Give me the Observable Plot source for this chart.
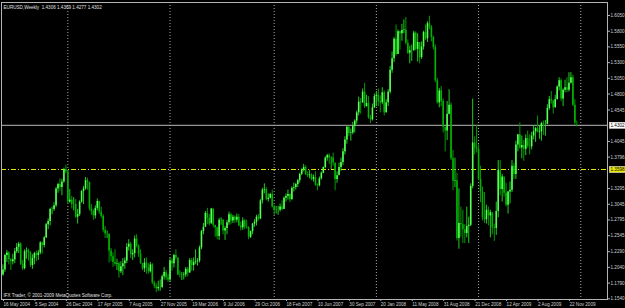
<!DOCTYPE html>
<html><head><meta charset="utf-8">
<script src="https://cdn.jsdelivr.net/npm/d3@7"></script>
<script src="https://cdn.jsdelivr.net/npm/@observablehq/plot@0.6"></script>
<style>html,body{margin:0;padding:0;background:#000;overflow:hidden}svg{display:block}</style>
</head><body><div id="chart"></div>
<script>
const symbolTitle = "EURUSD,Weekly";
const lastOHLC = [1.4306, 1.4369, 1.4277, 1.4302];
const copyright = "IFX Trader, \u00a9 2001-2009 MetaQuotes Software Corp.";
const firstWeek = "2004-05-16";
const firstOpen = 1.1920;
const currentPrice = 1.4302;
const levelPrice = 1.3598;

const closes = [
1.2000,1.2230,1.2270,1.2160,1.2130,1.2160,1.2290,1.2360,1.2410,1.2090,
1.2020,1.2290,1.2300,1.2270,1.2070,1.2180,1.2260,1.2230,1.2270,1.2430,
1.2390,1.2510,1.2720,1.2770,1.2960,1.2960,1.3020,1.3290,1.3360,1.3310,
1.3400,1.3600,1.3560,
1.3080,1.3110,1.3040,1.3040,1.2840,1.2880,1.3080,1.3250,1.3290,1.3420,
1.3390,1.2970,1.2930,1.2860,1.2980,1.3090,1.2920,1.2850,1.2630,1.2570,
1.2570,1.2300,1.2210,1.2120,1.2090,1.2100,1.1970,1.2050,1.2100,1.2140,
1.2360,1.2410,1.2240,1.2260,1.2490,1.2380,1.2250,1.2100,1.2020,1.2110,
1.2030,1.1970,1.2080,1.1790,1.1740,1.1700,1.1720,1.1720,1.1890,1.1960,
1.1870,1.1840,
1.2140,1.2100,1.2230,1.2190,1.1920,1.1910,1.1910,1.1920,1.2010,1.1950,
1.2150,1.2070,1.2120,1.2130,1.2140,1.2350,1.2610,1.2680,1.2900,1.2820,
1.2730,1.2970,1.2710,1.2670,1.2530,1.2790,1.2790,1.2620,1.2660,1.2750,
1.2880,1.2780,1.2840,1.2790,1.2840,1.2700,1.2670,1.2780,1.2680,1.2670,
1.2520,1.2610,1.2730,1.2760,1.2840,1.2810,1.3100,1.3270,1.3280,1.3120,
1.3140,1.3200,
1.3000,1.2950,1.2950,1.2950,1.3000,1.2960,1.3140,1.3170,1.3200,1.3120,
1.3300,1.3310,1.3360,1.3420,1.3520,1.3590,1.3630,1.3520,1.3500,1.3510,
1.3440,1.3470,1.3350,1.3340,1.3450,1.3540,1.3630,1.3780,1.3820,1.3780,
1.3780,1.3700,1.3440,1.3500,1.3630,1.3710,1.3880,1.4070,1.4270,1.4170,
1.4180,1.4290,1.4370,1.4500,1.4670,1.4660,1.4830,1.4600,1.4650,1.4420,
1.4390,1.4580,
1.4760,1.4780,1.4680,1.4660,1.4820,1.4500,1.4660,1.4830,1.5180,1.5360,
1.5670,1.5430,1.5790,1.5760,1.5810,1.5820,1.5610,1.5450,1.5490,1.5490,
1.5770,1.5510,1.5620,1.5380,1.5550,1.5780,1.5680,1.5920,1.5860,1.5700,
1.5540,1.5010,1.4660,1.4850,1.4680,1.4270,1.4210,1.4480,1.4620,1.3770,
1.3410,1.3420,1.2500,1.2740,1.2720,1.2640,1.2580,1.2690,1.2710,1.3330,
1.4020,1.3940,
1.3920,1.3440,1.3240,1.2830,1.2800,1.2950,1.2860,1.2910,1.2670,1.2660,
1.2930,1.3580,1.3280,1.3480,1.3220,1.3030,1.3240,1.3270,1.3650,1.3520,
1.3990,1.4150,1.3940,1.3980,1.3920,1.4090,1.3970,1.3960,1.4130,1.4200,
1.4250,1.4190,1.4200,1.4330,1.4320,1.4320,1.4570,1.4710,1.4690,1.4580,
1.4710,1.4910,1.5010,1.4720,1.4860,1.4900,1.4860,1.4970,1.5060,1.4620,
1.4340,1.4302
];
const highs = [
1.2080,1.2250,1.2310,1.2290,1.2180,1.2250,1.2340,1.2420,1.2440,1.2430,
1.2150,1.2320,1.2350,1.2330,1.2290,1.2240,1.2280,1.2300,1.2310,1.2450,
1.2440,1.2530,1.2740,1.2810,1.2980,1.3000,1.3070,1.3310,1.3380,1.3450,
1.3440,1.3620,1.3667,
1.3580,1.3280,1.3170,1.3150,1.3120,1.2960,1.3100,1.3260,1.3330,1.3470,
1.3460,1.3400,1.3040,1.2960,1.3020,1.3130,1.3090,1.3000,1.2880,1.2690,
1.2620,1.2560,1.2340,1.2270,1.2320,1.2170,1.2120,1.2130,1.2180,1.2190,
1.2420,1.2480,1.2440,1.2320,1.2540,1.2560,1.2400,1.2320,1.2100,1.2180,
1.2190,1.2100,1.2120,1.2100,1.1820,1.1780,1.1820,1.1840,1.1920,1.2040,
1.1990,1.1930,
1.2190,1.2180,1.2250,1.2320,1.2190,1.1990,1.1960,1.1960,1.2040,1.2040,
1.2180,1.2180,1.2190,1.2320,1.2180,1.2380,1.2630,1.2740,1.2930,1.2980,
1.2880,1.2980,1.2960,1.2690,1.2680,1.2820,1.2830,1.2800,1.2690,1.2790,
1.2920,1.2900,1.2870,1.2860,1.2890,1.2880,1.2760,1.2830,1.2800,1.2790,
1.2690,1.2620,1.2740,1.2800,1.2870,1.2880,1.3120,1.3300,1.3370,1.3310,
1.3210,1.3220,
1.3270,1.3030,1.3010,1.3010,1.3050,1.3100,1.3160,1.3210,1.3270,1.3210,
1.3320,1.3380,1.3380,1.3440,1.3540,1.3610,1.3680,1.3660,1.3560,1.3580,
1.3530,1.3510,1.3560,1.3370,1.3480,1.3560,1.3640,1.3800,1.3840,1.3850,
1.3800,1.3860,1.3680,1.3560,1.3700,1.3780,1.3930,1.4120,1.4280,1.4290,
1.4240,1.4350,1.4390,1.4530,1.4750,1.4730,1.4880,1.4970,1.4780,1.4760,
1.4460,1.4640,
1.4800,1.4840,1.4880,1.4770,1.4900,1.4850,1.4710,1.4870,1.5240,1.5470,
1.5700,1.5900,1.5820,1.5800,1.5910,1.5980,1.6020,1.5660,1.5560,1.5580,
1.5800,1.5790,1.5760,1.5530,1.5630,1.5800,1.5900,1.5950,1.6038,1.5890,
1.5720,1.5580,1.5050,1.4890,1.4920,1.4720,1.4220,1.4680,1.4867,1.4660,
1.3900,1.3780,1.3540,1.3290,1.3000,1.2950,1.2720,1.3000,1.2840,1.3370,
1.4720,1.4120,
1.4300,1.3990,1.3650,1.3320,1.3230,1.3030,1.3000,1.2950,1.2890,1.2730,
1.3080,1.3740,1.3740,1.3520,1.3420,1.3380,1.3250,1.3400,1.3740,1.3700,
1.4050,1.4150,1.4340,1.4130,1.4060,1.4150,1.4210,1.4150,1.4190,1.4300,
1.4270,1.4450,1.4300,1.4350,1.4370,1.4380,1.4630,1.4760,1.4840,1.4700,
1.4780,1.4930,1.5060,1.5040,1.4880,1.5020,1.5060,1.5140,1.5140,1.5100,
1.4710,1.4369
];
const lows = [
1.1900,1.1960,1.2120,1.2080,1.1990,1.2080,1.2100,1.2260,1.2260,1.2070,
1.1990,1.2000,1.2170,1.2140,1.2040,1.2010,1.2080,1.2130,1.2150,1.2240,
1.2250,1.2350,1.2500,1.2640,1.2700,1.2880,1.2930,1.2990,1.3220,1.3250,
1.3180,1.3380,1.3530,
1.3050,1.3060,1.2970,1.2940,1.2820,1.2730,1.2850,1.3060,1.3040,1.3270,
1.3270,1.2940,1.2870,1.2790,1.2810,1.2940,1.2880,1.2820,1.2590,1.2500,
1.2500,1.2110,1.2130,1.2040,1.2060,1.1990,1.1870,1.1940,1.1910,1.2010,
1.2100,1.2300,1.2180,1.2150,1.2190,1.2350,1.2200,1.2090,1.1990,1.1960,
1.1930,1.1930,1.1950,1.1770,1.1700,1.1640,1.1660,1.1660,1.1700,1.1840,
1.1830,1.1800,
1.1800,1.1980,1.2030,1.2160,1.1910,1.1870,1.1830,1.1840,1.1880,1.1890,
1.1950,1.1980,1.1980,1.2080,1.2060,1.2110,1.2320,1.2560,1.2680,1.2720,
1.2700,1.2760,1.2670,1.2520,1.2480,1.2470,1.2710,1.2560,1.2470,1.2560,
1.2710,1.2720,1.2740,1.2740,1.2750,1.2690,1.2620,1.2630,1.2640,1.2650,
1.2480,1.2500,1.2560,1.2680,1.2700,1.2780,1.2800,1.3050,1.3210,1.3100,
1.3080,1.3130,
1.2990,1.2870,1.2890,1.2870,1.2920,1.2940,1.2990,1.3080,1.3110,1.3070,
1.3100,1.3240,1.3270,1.3310,1.3380,1.3500,1.3560,1.3500,1.3470,1.3450,
1.3420,1.3400,1.3330,1.3260,1.3320,1.3430,1.3530,1.3610,1.3730,1.3680,
1.3600,1.3650,1.3260,1.3380,1.3530,1.3570,1.3660,1.3830,1.4000,1.4120,
1.4050,1.4150,1.4180,1.4320,1.4450,1.4480,1.4650,1.4570,1.4590,1.4400,
1.4330,1.4370,
1.4570,1.4600,1.4600,1.4500,1.4630,1.4450,1.4500,1.4600,1.4800,1.5130,
1.5300,1.5400,1.5440,1.5500,1.5640,1.5760,1.5580,1.5430,1.5280,1.5320,
1.5480,1.5490,1.5310,1.5280,1.5350,1.5500,1.5650,1.5620,1.5820,1.5630,
1.5500,1.4980,1.4640,1.4580,1.4600,1.4180,1.3880,1.4060,1.4470,1.3740,
1.3260,1.3310,1.2460,1.2330,1.2520,1.2420,1.2420,1.2510,1.2420,1.2690,
1.3290,1.3830,
1.3860,1.3420,1.3070,1.2780,1.2740,1.2730,1.2700,1.2510,1.2560,1.2455,
1.2550,1.2830,1.3180,1.3080,1.3160,1.3000,1.2890,1.3050,1.3230,1.3440,
1.3440,1.3880,1.3920,1.3770,1.3730,1.3820,1.3940,1.3830,1.3910,1.4070,
1.4030,1.4180,1.4080,1.4050,1.4140,1.4130,1.4310,1.4540,1.4640,1.4480,
1.4580,1.4710,1.4850,1.4680,1.4600,1.4820,1.4820,1.4830,1.4960,1.4600,
1.4300,1.4277
];
const xTickDates = ["2004-05-16","2004-09-05","2004-12-26","2005-04-17","2005-08-07","2005-11-27",
  "2006-03-19","2006-07-09","2006-10-29","2007-02-18","2007-06-10","2007-09-30","2008-01-20",
  "2008-05-11","2008-08-31","2008-12-21","2009-04-12","2009-08-02","2009-11-22"];
const yTicks = [1.6050,1.5800,1.5550,1.5300,1.5050,1.4800,1.4545,1.4045,1.3796,
  1.3295,1.3045,1.2795,1.2545,1.2290,1.2040,1.1790,1.1540];
const yearSeparators = ["2005-01-02","2006-01-01","2007-01-07","2008-01-06","2009-01-04","2010-01-03"];

if (closes.length !== highs.length || closes.length !== lows.length) throw new Error("length mismatch " + closes.length + " " + highs.length + " " + lows.length);

const WEEK = 7 * 864e5;
const t0 = new Date(firstWeek + "T00:00:00Z").getTime();
const bars = closes.map((c, i) => ({
  date: new Date(t0 + i * WEEK),
  open: i === closes.length - 1 ? lastOHLC[0] : (i === 0 ? firstOpen : closes[i - 1]),
  high: highs[i], low: lows[i], close: c
}));
bars.forEach(d => d.up = d.close >= d.open);

const FONT = "'Liberation Sans', Arial, sans-serif";
const FS = 4.6;
const fmtDate = d3.utcFormat("%-d %b %Y");
const tagCurrent = currentPrice.toFixed(4);
const tagLevel = levelPrice.toFixed(4);

const chart = Plot.plot({
  width: 625, height: 308,
  marginLeft: 1, marginRight: 18, marginTop: 2, marginBottom: 9,
  style: {background: "#000", color: "#c8c8c8", fontFamily: FONT, fontSize: FS + "px"},
  x: {type: "utc", domain: [new Date("2004-05-10T18:00:00Z"), new Date("2010-04-08T05:00:00Z")], axis: null},
  y: {domain: [1.1529, 1.6257], axis: null},
  marks: [
    Plot.ruleX(yearSeparators.map(s => new Date(s + "T00:00:00Z")), {stroke: "#a8a8a8", strokeDasharray: "1,2"}),
    Plot.ruleY([levelPrice], {stroke: "#e6e600", strokeDasharray: "5,2,1,2", shapeRendering: "crispEdges"}),
    Plot.ruleY([currentPrice], {stroke: "#b8b8b8"}),
    Plot.ruleX(bars, {x: "date", y1: "low", y2: "high", stroke: d => d.up ? "#22cc22" : "#009a00", strokeWidth: 1}),
    Plot.ruleX(bars, {x: "date", y1: "open", y2: "close", stroke: d => d.up ? "#55ff55" : "#00b400", strokeWidth: 1.6}),
    Plot.frame({stroke: "#b4b4b4"}),
    Plot.axisY({ticks: yTicks, anchor: "right", tickSize: 2, tickPadding: 1, tickFormat: d => d.toFixed(4), fontSize: FS, fill: "#d0d0d0", stroke: "#b4b4b4"}),
    Plot.axisX({ticks: xTickDates.map(s => new Date(s + "T00:00:00Z")), anchor: "bottom", tickSize: 2, tickPadding: 1, tickFormat: fmtDate, textAnchor: "start", dx: 0.5, fontSize: FS, fill: "#d0d0d0", stroke: "#b4b4b4"}),
    Plot.text([currentPrice], {y: d => d, frameAnchor: "right", textAnchor: "start", dx: 3, text: d => d.toFixed(4), fill: "#000", fontSize: FS}),
    Plot.text([levelPrice], {y: d => d, frameAnchor: "right", textAnchor: "start", dx: 3, text: d => d.toFixed(4), fill: "#000", fontSize: FS}),
    Plot.text([symbolTitle + "  " + lastOHLC.map(v => v.toFixed(4)).join(" ")], {frameAnchor: "top-left", dx: 2, dy: 3, fill: "#e0e0e0", fontSize: FS, textAnchor: "start", lineAnchor: "top"}),
    Plot.text([copyright], {frameAnchor: "bottom-left", dx: 2, dy: -3, fill: "#e0e0e0", fontSize: FS, textAnchor: "start", lineAnchor: "bottom"})
  ]
});
document.getElementById("chart").appendChild(chart);

function addTags() {
  Array.from(chart.querySelectorAll("text"))
    .filter(n => n.textContent === tagCurrent || n.textContent === tagLevel)
    .forEach(node => {
      const bb = node.getBBox();
      const rect = document.createElementNS("http://www.w3.org/2000/svg", "rect");
      const tr = node.getAttribute("transform");
      if (tr) rect.setAttribute("transform", tr);
      rect.setAttribute("x", bb.x - 1);
      rect.setAttribute("y", bb.y - 0.5);
      rect.setAttribute("width", bb.width + 2);
      rect.setAttribute("height", bb.height + 1);
      rect.setAttribute("fill", node.textContent === tagCurrent ? "#ffffff" : "#e8e800");
      rect.setAttribute("stroke", "#ffffff");
      rect.setAttribute("stroke-width", 0.5);
      node.parentNode.insertBefore(rect, node);
    });
}
addTags();
</script>
</body></html>
